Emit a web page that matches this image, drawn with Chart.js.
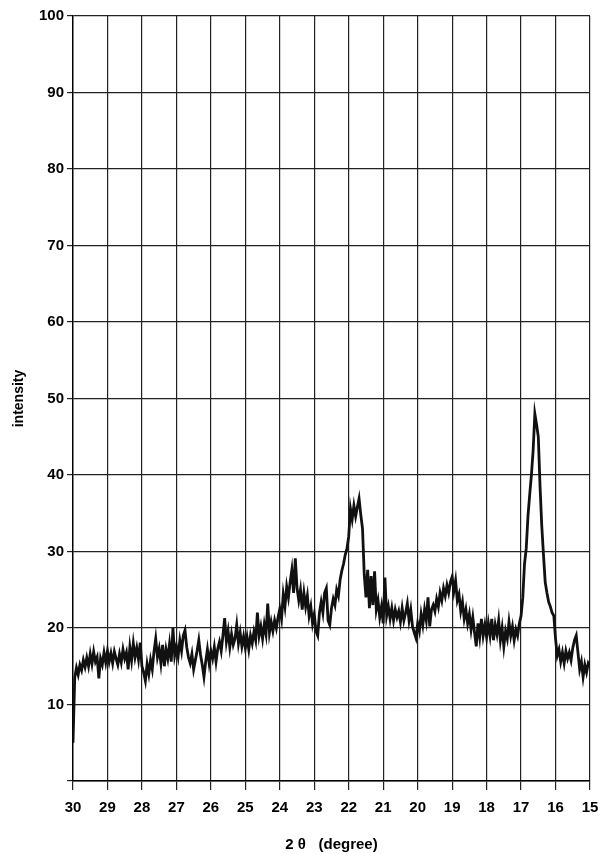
<!DOCTYPE html>
<html>
<head>
<meta charset="utf-8">
<script src="https://cdn.jsdelivr.net/npm/chart.js@4.4.1/dist/chart.umd.min.js"></script>
<style>
html,body{margin:0;padding:0;background:#fff;}
#wrap{width:603px;height:854px;position:relative;}
</style>
</head>
<body>
<div id="wrap"><canvas id="c" width="603" height="854"></canvas></div>
<script>
// 2θ sampling: from 30.00 down to 15.00 in 0.05° steps
const startAngle = 30;
const stepAngle = 0.05;

// intensity, one value per 0.05°, grouped by degree
const seg30 = [5,13.5,14.8,13.9,15.2,14.5,15.8,14.9,16.1,15.0,16.6,15.3,16.9,15.6,16.2,13.4,16.0,15.2,16.8,15.5];
const seg29 = [17.0,15.6,16.7,15.4,16.9,16.0,15.2,16.6,15.5,17.2,16.0,16.8,14.6,17.5,15.8,18.0,16.2,17.4,15.9,18.1];
const seg28 = [15.0,14.2,13.1,15.3,14.0,15.8,14.6,16.9,18.6,16.2,17.3,15.4,17.8,15.0,17.2,16.0,17.9,15.6,20.0,16.4];
const seg27 = [17.6,16.3,18.4,17.0,19.0,19.7,17.5,16.2,15.4,16.6,14.6,15.8,17.0,18.4,16.5,15.2,13.6,15.6,17.2,15.4];
const seg26 = [17.0,16.0,17.5,15.6,17.3,18.2,17.0,19.0,21.3,18.2,19.6,17.5,19.2,17.8,18.6,20.4,18.0,19.4,17.6,18.9];
const seg25 = [17.4,18.8,17.2,19.0,18.0,19.5,18.4,22.0,19.0,20.2,18.6,20.5,19.2,23.2,19.4,20.8,19.6,21.0,20.0,21.4];
const seg24 = [22.5,21.2,24.4,22.8,25.4,24.0,26.0,27.6,24.6,29.1,25.2,23.6,25.0,22.4,24.6,22.8,24.2,21.6,22.8,20.6];
const seg23 = [21.8,19.6,19.0,22.0,23.4,22.0,24.6,25.2,21.0,20.4,22.6,23.8,23.0,25.0,24.2,26.3,27.5,28.4,29.6,30.4];
const seg22 = [32.0,35.6,34.2,36.0,34.6,35.8,36.9,34.8,33.0,27.0,24.0,27.6,22.6,26.8,23.0,27.4,22.4,23.6,21.4,22.8];
const seg21 = [20.6,26.6,21.6,22.8,21.2,22.6,21.0,22.4,21.4,22.2,20.8,22.6,21.0,22.0,23.2,21.0,22.4,20.2,19.4,18.7];
const seg20 = [20.6,19.6,21.8,20.4,22.4,21.0,24.0,20.2,22.4,23.0,22.2,23.8,22.8,24.6,23.6,25.2,24.2,25.6,24.6,26.0];
const seg19 = [26.7,24.8,26.2,23.6,24.4,22.2,23.4,21.2,22.4,20.6,21.8,19.8,21.4,19.4,17.6,20.6,18.8,21.2,19.0,20.4];
const seg18 = [18.8,20.6,19.0,21.2,18.4,20.4,19.2,21.0,18.4,20.0,17.6,19.6,18.6,20.8,19.0,20.2,18.4,19.8,19.0,20.6];
const seg17 = [21.6,24.0,28.4,30.4,34.6,37.4,40.0,43.2,48.0,46.6,45.0,38.6,33.4,29.6,26.0,24.6,23.4,22.8,22.0,21.6];
const seg16 = [18.6,16.4,17.2,15.6,16.8,15.4,17.0,16.0,16.8,15.8,17.4,18.4,19.0,16.8,14.6,15.6,13.6,15.2,14.2,15.4,15.0];

const intensity = [].concat(seg30,seg29,seg28,seg27,seg26,seg25,seg24,seg23,seg22,seg21,seg20,seg19,seg18,seg17,seg16);
const twoTheta = intensity.map((_, i) => +(startAngle - i * stepAngle).toFixed(2));

const xTicks = [30,29,28,27,26,25,24,23,22,21,20,19,18,17,16,15];
const yTicks = [10,20,30,40,50,60,70,80,90,100];

const points = twoTheta.map((t, i) => ({x: t, y: intensity[i]}));

const FONT = "'Liberation Sans', Arial, sans-serif";

new Chart(document.getElementById('c'), {
  type: 'line',
  data: {
    datasets: [{
      data: points,
      borderColor: '#111',
      borderWidth: 2.8,
      pointRadius: 0,
      tension: 0,
      fill: false
    }]
  },
  options: {
    responsive: false,
    animation: false,
    devicePixelRatio: 1,
    layout: {padding: {left: 0, right: 13, top: 16, bottom: 0}},
    plugins: {legend: {display: false}, tooltip: {enabled: false}},
    scales: {
      x: {
        type: 'linear',
        reverse: true,
        min: 15, max: 30,
        afterBuildTicks: (s) => { s.ticks = xTicks.map(v => ({value: v})); },
        afterFit: (s) => { s.height = 73; s.paddingLeft = 0; s.paddingRight = 0; },
        ticks: {
          color: '#000',
          font: {family: FONT, size: 15, weight: 'bold'},
          padding: 9,
          maxRotation: 0,
          autoSkip: false,
          callback: (v) => String(v)
        },
        grid: {color: '#222', lineWidth: 1.2, tickLength: 9, drawOnChartArea: true},
        border: {color: '#000', width: 1.4},
        title: {
          display: true,
          text: '2 θ   (degree)',
          color: '#000',
          font: {family: FONT, size: 15, weight: 'bold'},
          padding: {top: 6, bottom: 0}
        }
      },
      y: {
        type: 'linear',
        min: 0, max: 100,
        afterBuildTicks: (s) => { s.ticks = [0].concat(yTicks).map(v => ({value: v})); },
        afterFit: (s) => { s.width = 73; s.paddingTop = 0; s.paddingBottom = 0; },
        ticks: {
          color: '#000',
          font: {family: FONT, size: 15, weight: 'bold'},
          padding: 3,
          autoSkip: false,
          callback: (v) => v === 0 ? '' : String(v)
        },
        grid: {color: '#222', lineWidth: 1.2, tickLength: 6},
        border: {color: '#000', width: 1.4},
        title: {
          display: true,
          text: 'intensity',
          color: '#000',
          font: {family: FONT, size: 14, weight: 'bold'},
          padding: {top: 11, bottom: 0}
        }
      }
    }
  }
});
</script>
</body>
</html>
